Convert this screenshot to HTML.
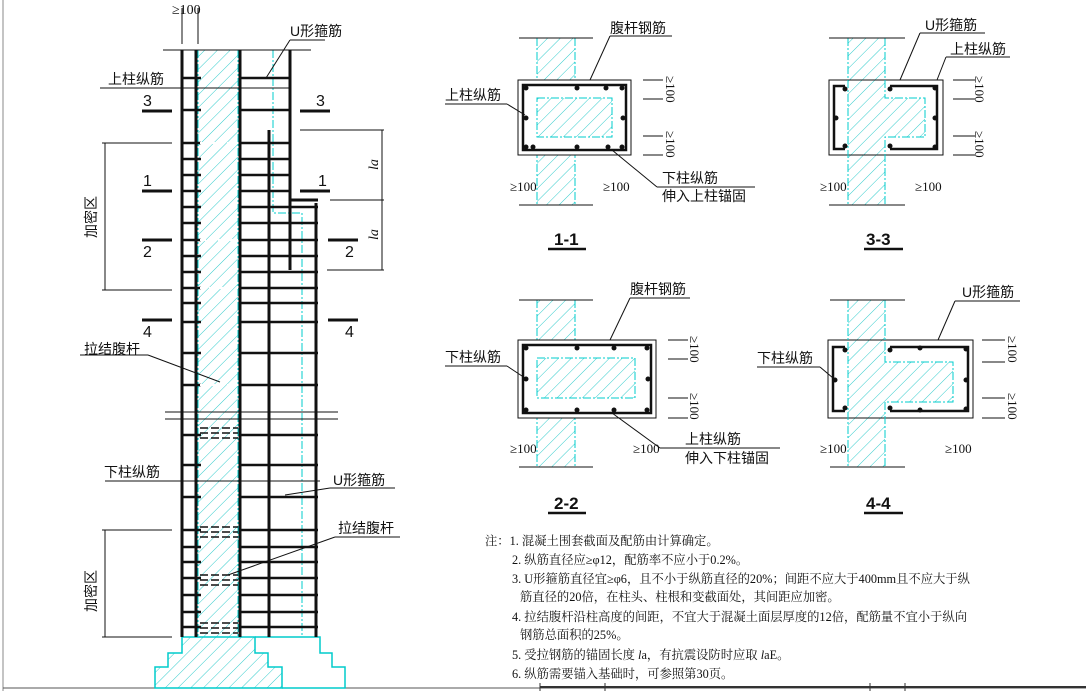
<!DOCTYPE html>
<html><head><meta charset="utf-8"><style>
html,body{margin:0;padding:0;background:#fff;}
svg{display:block;}
text{font-family:"Liberation Serif","Noto Serif CJK SC","Noto Sans CJK SC",serif;fill:#111;}
.c{font-family:"Liberation Sans","Noto Sans CJK SC",sans-serif;}
</style></head><body>
<svg width="1086" height="691" viewBox="0 0 1086 691" xmlns="http://www.w3.org/2000/svg">
<defs>
<pattern id="h" width="9" height="9" patternUnits="userSpaceOnUse" patternTransform="rotate(45)">
<line x1="0" y1="0" x2="0" y2="9" stroke="#3cc" stroke-width="1"/></pattern>
</defs>
<rect width="1086" height="691" fill="#fff"/>
<line x1="3" y1="0" x2="3" y2="691" stroke="#888"/>
<line x1="3" y1="688" x2="1086" y2="688" stroke="#555"/>

<!-- ELEVATION -->
<rect x="198" y="50" width="40" height="587" fill="url(#h)"/>
<line x1="198" y1="50" x2="198" y2="637" stroke="#0cc" stroke-dasharray="8,2,2,2"/>
<line x1="238" y1="50" x2="238" y2="637" stroke="#0cc" stroke-dasharray="8,2,2,2"/>
<polyline points="273,50 273,213 302,213 302,637" fill="none" stroke="#0cc" stroke-dasharray="8,2,2,2"/>
<polygon points="182,637 255,637 255,653 268,653 268,667 282,667 282,688 155,688 155,667 168,667 168,653 182,653" fill="url(#h)" stroke="#0cc" stroke-width="1.5"/>
<polyline points="255,637 320,637 320,653 332,653 332,667 345,667 345,688 282,688" fill="none" stroke="#0cc" stroke-width="1.5"/>
<g stroke="#111" stroke-width="1">
<line x1="163" y1="50" x2="311" y2="50"/>
<line x1="165" y1="412" x2="338" y2="412"/>
<line x1="165" y1="419" x2="338" y2="419"/>
<line x1="100" y1="88" x2="290" y2="88"/>
<line x1="105" y1="481" x2="320" y2="481"/>
<line x1="102" y1="143" x2="172" y2="143"/>
<line x1="102" y1="290" x2="172" y2="290"/>
<line x1="105" y1="143" x2="105" y2="290"/>
<line x1="102" y1="530" x2="172" y2="530"/>
<line x1="102" y1="637" x2="172" y2="637"/>
<line x1="105" y1="530" x2="105" y2="637"/>
<line x1="300" y1="130" x2="384" y2="130"/>
<line x1="330" y1="200" x2="384" y2="200"/>
<line x1="327" y1="270" x2="384" y2="270"/>
<line x1="382" y1="130" x2="382" y2="270"/>
<line x1="182" y1="8" x2="182" y2="44"/>
<line x1="198" y1="8" x2="198" y2="44"/>
<line x1="290" y1="40" x2="266" y2="78"/>
<line x1="290" y1="40" x2="325" y2="40"/>
<line x1="80" y1="355" x2="148" y2="355"/>
<line x1="148" y1="355" x2="220" y2="382"/>
<line x1="285" y1="495" x2="330" y2="488"/>
<line x1="330" y1="488" x2="395" y2="488"/>
<line x1="228" y1="575" x2="335" y2="537"/>
<line x1="335" y1="537" x2="400" y2="537"/>
</g>
<g stroke="#111" stroke-width="3">
<line x1="182" y1="50" x2="182" y2="637"/>
<line x1="196" y1="50" x2="196" y2="637"/>
<line x1="240" y1="50" x2="240" y2="637"/>
<line x1="290" y1="50" x2="290" y2="270"/>
<line x1="269" y1="130" x2="269" y2="637"/>
<line x1="316" y1="203" x2="316" y2="637"/>
<line x1="290" y1="200" x2="318" y2="200"/>
<line x1="142" y1="111" x2="172" y2="111"/><line x1="300" y1="111" x2="330" y2="111"/>
<line x1="142" y1="191" x2="172" y2="191"/><line x1="300" y1="191" x2="330" y2="191"/>
<line x1="142" y1="240" x2="172" y2="240"/><line x1="328" y1="240" x2="358" y2="240"/>
<line x1="142" y1="320" x2="172" y2="320"/><line x1="328" y1="320" x2="358" y2="320"/>
</g>
<g stroke="#111" stroke-width="2.5" id="st"></g>
<g stroke="#fff" stroke-width="2" stroke-dasharray="6,3">
<line x1="200" y1="143" x2="238" y2="143"/>
<line x1="200" y1="240" x2="238" y2="240"/>
<line x1="200" y1="288" x2="238" y2="288"/>
<line x1="200" y1="385" x2="238" y2="385"/>
</g>
<g stroke="#111" stroke-width="1.5" stroke-dasharray="8,3">
<line x1="200" y1="428" x2="238" y2="428"/><line x1="200" y1="433" x2="238" y2="433"/><line x1="200" y1="438" x2="238" y2="438"/>
<line x1="200" y1="527" x2="238" y2="527"/><line x1="200" y1="532" x2="238" y2="532"/><line x1="200" y1="537" x2="238" y2="537"/>
<line x1="200" y1="575" x2="238" y2="575"/><line x1="200" y1="580" x2="238" y2="580"/><line x1="200" y1="585" x2="238" y2="585"/>
<line x1="200" y1="623" x2="238" y2="623"/><line x1="200" y1="628" x2="238" y2="628"/><line x1="200" y1="633" x2="238" y2="633"/>
</g>
<text x="172" y="14" font-size="14">≥100</text>
<text x="290" y="36" font-size="14" class="c">U形箍筋</text>
<text x="108" y="84" font-size="14" class="c">上柱纵筋</text>
<text x="143" y="106" font-size="16" class="c">3</text><text x="316" y="106" font-size="16" class="c">3</text>
<text x="143" y="186" font-size="16" class="c">1</text><text x="318" y="186" font-size="16" class="c">1</text>
<text x="143" y="257" font-size="16" class="c">2</text><text x="345" y="257" font-size="16" class="c">2</text>
<text x="143" y="337" font-size="16" class="c">4</text><text x="345" y="337" font-size="16" class="c">4</text>
<text x="378" y="170" font-size="14" font-style="italic" transform="rotate(-90 378 170)">la</text>
<text x="378" y="240" font-size="14" font-style="italic" transform="rotate(-90 378 240)">la</text>
<text x="96" y="238" font-size="14" class="c" transform="rotate(-90 96 238)">加密区</text>
<text x="96" y="612" font-size="14" class="c" transform="rotate(-90 96 612)">加密区</text>
<text x="84" y="354" font-size="14" class="c">拉结腹杆</text>
<text x="104" y="477" font-size="14" class="c">下柱纵筋</text>
<text x="333" y="485" font-size="14" class="c">U形箍筋</text>
<text x="338" y="533" font-size="14" class="c">拉结腹杆</text>

<!-- 1-1 -->
<g>
<rect x="537" y="38" width="38" height="167" fill="url(#h)"/>
<line x1="537" y1="38" x2="537" y2="205" stroke="#0cc" stroke-dasharray="8,2,2,2"/>
<line x1="575" y1="38" x2="575" y2="205" stroke="#0cc" stroke-dasharray="8,2,2,2"/>
<rect x="518" y="80" width="113" height="75" fill="#fff" stroke="#111"/>
<rect x="523" y="85" width="103" height="65" fill="none" stroke="#111" stroke-width="2.5"/>
<rect x="537" y="98" width="75" height="39" fill="url(#h)" stroke="#0cc" stroke-dasharray="8,2,2,2"/>
<g fill="#111"><circle cx="526" cy="88" r="2.5"/><circle cx="577" cy="88" r="2.5"/><circle cx="606" cy="88" r="2.5"/><circle cx="622" cy="88" r="2.5"/><circle cx="526" cy="147" r="2.5"/><circle cx="533" cy="147" r="2.5"/><circle cx="577" cy="147" r="2.5"/><circle cx="608" cy="147" r="2.5"/><circle cx="622" cy="147" r="2.5"/><circle cx="526" cy="118" r="2.5"/><circle cx="623" cy="118" r="2.5"/></g>
<g stroke="#111"><line x1="519" y1="38" x2="593" y2="38"/><line x1="519" y1="205" x2="593" y2="205"/>
<line x1="590" y1="80" x2="610" y2="36"/><line x1="610" y1="36" x2="672" y2="36"/>
<line x1="445" y1="104" x2="507" y2="104"/><line x1="507" y1="104" x2="525" y2="115"/>
<line x1="612" y1="150" x2="657" y2="187"/><line x1="657" y1="187" x2="755" y2="187"/>
<line x1="643" y1="80" x2="663" y2="80"/><line x1="643" y1="99" x2="663" y2="99"/><line x1="643" y1="136" x2="663" y2="136"/><line x1="643" y1="155" x2="663" y2="155"/></g>
<text x="610" y="33" font-size="14" class="c">腹杆钢筋</text>
<text x="445" y="100" font-size="14" class="c">上柱纵筋</text>
<text x="662" y="183" font-size="14" class="c">下柱纵筋</text>
<text x="662" y="201" font-size="14" class="c">伸入上柱锚固</text>
<text x="510" y="191" font-size="13">≥100</text><text x="603" y="191" font-size="13">≥100</text>
<text x="666" y="76" font-size="13" transform="rotate(90 666 76)">≥100</text>
<text x="666" y="131" font-size="13" transform="rotate(90 666 131)">≥100</text>
<text x="554" y="245" font-size="17" class="c" font-weight="bold">1-1</text>
<line x1="548" y1="249" x2="586" y2="249" stroke="#111" stroke-width="2.5"/>
</g>

<!-- 3-3 -->
<g>
<rect x="848" y="38" width="37" height="167" fill="url(#h)"/>
<rect x="885" y="98" width="40" height="39" fill="url(#h)"/>
<rect x="829" y="80" width="114" height="75" fill="none" stroke="#111"/>
<line x1="848" y1="38" x2="848" y2="205" stroke="#0cc" stroke-dasharray="8,2,2,2"/>
<polyline points="885,38 885,98 925,98 925,137 885,137 885,205" fill="none" stroke="#0cc" stroke-dasharray="8,2,2,2"/>
<polyline points="845,86 834,86 834,149 845,149" fill="none" stroke="#111" stroke-width="2.5"/>
<polyline points="890,86 937,86 937,149 890,149" fill="none" stroke="#111" stroke-width="2.5"/>
<g fill="#111"><circle cx="845" cy="89" r="2.5"/><circle cx="845" cy="146" r="2.5"/><circle cx="890" cy="89" r="2.5"/><circle cx="890" cy="146" r="2.5"/><circle cx="935" cy="88" r="2.5"/><circle cx="935" cy="147" r="2.5"/><circle cx="836" cy="118" r="2.5"/><circle cx="935" cy="118" r="2.5"/></g>
<g stroke="#111"><line x1="829" y1="38" x2="905" y2="38"/><line x1="829" y1="205" x2="905" y2="205"/>
<line x1="900" y1="80" x2="920" y2="33"/><line x1="920" y1="33" x2="985" y2="33"/>
<line x1="937" y1="80" x2="946" y2="57"/><line x1="946" y1="57" x2="1010" y2="57"/>
<line x1="953" y1="80" x2="975" y2="80"/><line x1="953" y1="99" x2="975" y2="99"/><line x1="953" y1="136" x2="975" y2="136"/><line x1="953" y1="155" x2="975" y2="155"/></g>
<text x="925" y="30" font-size="14" class="c">U形箍筋</text>
<text x="950" y="54" font-size="14" class="c">上柱纵筋</text>
<text x="820" y="191" font-size="13">≥100</text><text x="915" y="191" font-size="13">≥100</text>
<text x="975" y="76" font-size="13" transform="rotate(90 975 76)">≥100</text>
<text x="975" y="131" font-size="13" transform="rotate(90 975 131)">≥100</text>
<text x="866" y="245" font-size="17" class="c" font-weight="bold">3-3</text>
<line x1="864" y1="249" x2="903" y2="249" stroke="#111" stroke-width="2.5"/>
</g>

<!-- 2-2 -->
<g>
<rect x="537" y="300" width="38" height="167" fill="url(#h)"/>
<line x1="537" y1="300" x2="537" y2="467" stroke="#0cc" stroke-dasharray="8,2,2,2"/>
<line x1="575" y1="300" x2="575" y2="467" stroke="#0cc" stroke-dasharray="8,2,2,2"/>
<rect x="518" y="340" width="138" height="78" fill="#fff" stroke="#111"/>
<rect x="523" y="345" width="128" height="68" fill="none" stroke="#111" stroke-width="2.5"/>
<rect x="537" y="358" width="98" height="40" fill="url(#h)" stroke="#0cc" stroke-dasharray="8,2,2,2"/>
<g fill="#111"><circle cx="526" cy="348" r="2.5"/><circle cx="577" cy="348" r="2.5"/><circle cx="614" cy="348" r="2.5"/><circle cx="647" cy="348" r="2.5"/><circle cx="526" cy="410" r="2.5"/><circle cx="577" cy="410" r="2.5"/><circle cx="614" cy="410" r="2.5"/><circle cx="647" cy="410" r="2.5"/><circle cx="526" cy="379" r="2.5"/><circle cx="648" cy="379" r="2.5"/></g>
<g stroke="#111"><line x1="519" y1="300" x2="593" y2="300"/><line x1="519" y1="467" x2="593" y2="467"/>
<line x1="610" y1="340" x2="630" y2="298"/><line x1="630" y1="298" x2="690" y2="298"/>
<line x1="445" y1="366" x2="507" y2="366"/><line x1="507" y1="366" x2="525" y2="378"/>
<line x1="612" y1="413" x2="660" y2="448"/><line x1="660" y1="448" x2="780" y2="448"/>
<line x1="668" y1="340" x2="688" y2="340"/><line x1="668" y1="359" x2="688" y2="359"/><line x1="668" y1="398" x2="688" y2="398"/><line x1="668" y1="418" x2="688" y2="418"/></g>
<text x="630" y="294" font-size="14" class="c">腹杆钢筋</text>
<text x="445" y="362" font-size="14" class="c">下柱纵筋</text>
<text x="685" y="444" font-size="14" class="c">上柱纵筋</text>
<text x="685" y="463" font-size="14" class="c">伸入下柱锚固</text>
<text x="510" y="453" font-size="13">≥100</text><text x="633" y="453" font-size="13">≥100</text>
<text x="690" y="336" font-size="13" transform="rotate(90 690 336)">≥100</text>
<text x="690" y="393" font-size="13" transform="rotate(90 690 393)">≥100</text>
<text x="554" y="509" font-size="17" class="c" font-weight="bold">2-2</text>
<line x1="548" y1="513" x2="586" y2="513" stroke="#111" stroke-width="2.5"/>
</g>

<!-- 4-4 -->
<g>
<rect x="848" y="300" width="37" height="167" fill="url(#h)"/>
<rect x="885" y="362" width="68" height="40" fill="url(#h)"/>
<rect x="828" y="340" width="145" height="78" fill="none" stroke="#111"/>
<line x1="848" y1="300" x2="848" y2="467" stroke="#0cc" stroke-dasharray="8,2,2,2"/>
<polyline points="885,300 885,362 953,362 953,402 885,402 885,467" fill="none" stroke="#0cc" stroke-dasharray="8,2,2,2"/>
<polyline points="845,347 833,347 833,411 845,411" fill="none" stroke="#111" stroke-width="2.5"/>
<polyline points="890,347 968,347 968,411 890,411" fill="none" stroke="#111" stroke-width="2.5"/>
<g fill="#111"><circle cx="845" cy="350" r="2.5"/><circle cx="845" cy="408" r="2.5"/><circle cx="890" cy="350" r="2.5"/><circle cx="890" cy="408" r="2.5"/><circle cx="920" cy="348" r="2.5"/><circle cx="920" cy="410" r="2.5"/><circle cx="966" cy="349" r="2.5"/><circle cx="966" cy="409" r="2.5"/><circle cx="835" cy="380" r="2.5"/><circle cx="966" cy="380" r="2.5"/></g>
<g stroke="#111"><line x1="830" y1="300" x2="905" y2="300"/><line x1="830" y1="467" x2="905" y2="467"/>
<line x1="938" y1="340" x2="955" y2="301"/><line x1="955" y1="301" x2="1020" y2="301"/>
<line x1="757" y1="367" x2="820" y2="367"/><line x1="820" y1="367" x2="833" y2="378"/>
<line x1="982" y1="340" x2="1005" y2="340"/><line x1="982" y1="362" x2="1005" y2="362"/><line x1="982" y1="398" x2="1005" y2="398"/><line x1="982" y1="418" x2="1005" y2="418"/></g>
<text x="962" y="297" font-size="14" class="c">U形箍筋</text>
<text x="757" y="363" font-size="14" class="c">下柱纵筋</text>
<text x="820" y="453" font-size="13">≥100</text><text x="945" y="453" font-size="13">≥100</text>
<text x="1008" y="336" font-size="13" transform="rotate(90 1008 336)">≥100</text>
<text x="1008" y="393" font-size="13" transform="rotate(90 1008 393)">≥100</text>
<text x="866" y="509" font-size="17" class="c" font-weight="bold">4-4</text>
<line x1="864" y1="513" x2="903" y2="513" stroke="#111" stroke-width="2.5"/>
</g>

<!-- notes -->
<g font-size="12.3">
<text x="485" y="545">注：1. 混凝土围套截面及配筋由计算确定。</text>
<text x="512" y="564">2. 纵筋直径应≥φ12，配筋率不应小于0.2%。</text>
<text x="512" y="583">3. U形箍筋直径宜≥φ6，且不小于纵筋直径的20%；间距不应大于400mm且不应大于纵</text>
<text x="520" y="601">筋直径的20倍，在柱头、柱根和变截面处，其间距应加密。</text>
<text x="512" y="621">4. 拉结腹杆沿柱高度的间距，不宜大于混凝土面层厚度的12倍，配筋量不宜小于纵向</text>
<text x="520" y="639">钢筋总面积的25%。</text>
<text x="512" y="659">5. 受拉钢筋的锚固长度 <tspan font-style="italic">l</tspan>a，有抗震设防时应取 <tspan font-style="italic">l</tspan>aE。</text>
<text x="512" y="678">6. 纵筋需要锚入基础时，可参照第30页。</text>
</g>
<g stroke="#333"><line x1="540" y1="687" x2="1086" y2="687" stroke-width="2"/><line x1="540" y1="683" x2="540" y2="691"/><line x1="605" y1="683" x2="605" y2="691"/><line x1="870" y1="683" x2="870" y2="691"/><line x1="905" y1="683" x2="905" y2="691"/></g>
</svg>
<script>
var ys=[78,110,143,159,175,191,207,223,240,256,272,288,303,322,353,385,435,465,497,530,547,562,578,595,612,627];
var g=document.getElementById('st'),s='';
ys.forEach(function(y){var r=y<200?290:318;s+='<line x1="181" y1="'+y+'" x2="201" y2="'+y+'"/><line x1="239" y1="'+y+'" x2="'+r+'" y2="'+y+'"/>';});
g.innerHTML=s;
</script>
</body></html>
